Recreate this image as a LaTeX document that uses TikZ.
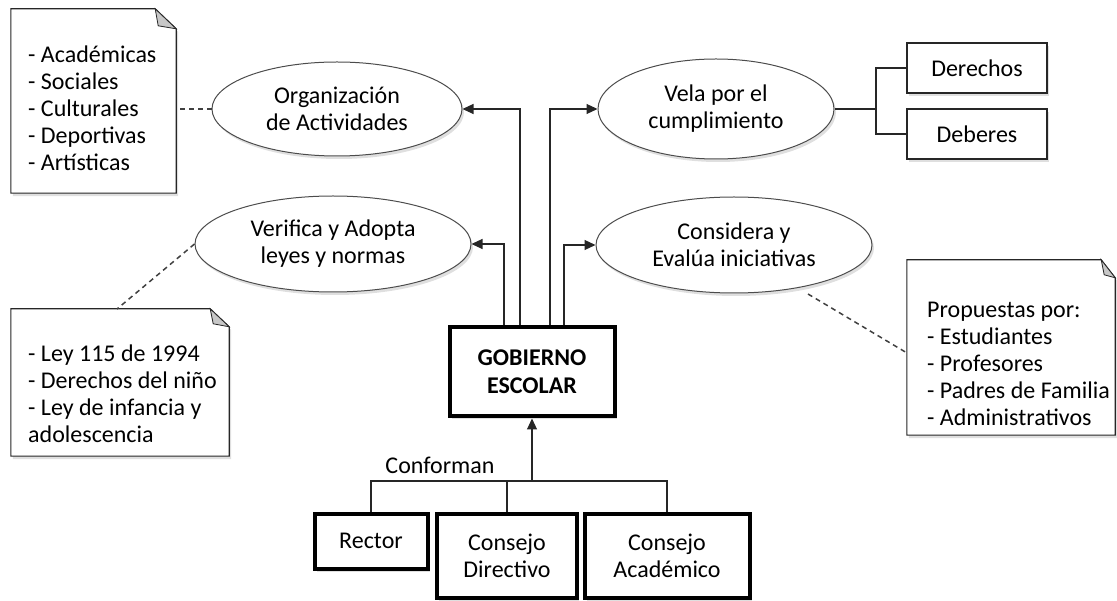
\documentclass[tikz,border=0pt]{standalone}
\usepackage{fontspec}
\setmainfont{Carlito}
\usetikzlibrary{shapes.geometric,arrows.meta,shadows,calc}
\begin{document}
\begin{tikzpicture}[x=1pt,y=-1pt,
  font=\fontsize{24}{27}\selectfont,
  shad/.style={drop shadow={opacity=0.25,shadow xshift=2pt,shadow yshift=-3pt}},
  oval/.style={ellipse,draw=black!70,line width=1pt,fill=white,align=center,inner sep=0pt,shad},
  thinbox/.style={rectangle,draw=black!85,line width=1.1pt,fill=white,align=center,inner sep=0pt,shad},
  thickbox/.style={rectangle,draw=black,line width=4pt,fill=white,align=center,inner sep=0pt,shad},
  notebox/.style={rectangle,inner sep=0pt},
  noteline/.style={draw=black!85,line width=1.1pt,fill=white,shad},
  fold/.style={draw=black!85,line width=0.8pt,fill=black!22},
  conn/.style={draw=black!85,line width=1.1pt},
  arr/.style={conn,-{Triangle[length=11pt,width=10pt]}},
  dashlink/.style={draw=black!75,line width=1.5pt,dash pattern=on 5pt off 4pt},
  notetext/.style={anchor=west,align=left,inner sep=0pt}
]
\useasboundingbox (0,0) rectangle (1117,601);

% ellipses
\node[oval,minimum width=250pt,minimum height=94pt] (e1) at (337,109) {Organización\\de Actividades};
\node[oval,minimum width=236pt,minimum height=100pt] (e2) at (716,109) {Vela por el\\cumplimiento};
\node[oval,minimum width=276pt,minimum height=96pt] (e3) at (333,244) {Verifica y Adopta\\leyes y normas};
\node[oval,minimum width=276pt,minimum height=96pt] (e4) at (734,245) {Considera y\\Evalúa iniciativas};

% right boxes
\node[thinbox,minimum width=140pt,minimum height=50pt] (der) at (977,68) {Derechos};
\node[thinbox,minimum width=140pt,minimum height=50pt] (deb) at (977,134) {Deberes};

% central and bottom boxes
\node[thickbox,minimum width=165pt,minimum height=89pt,font=\fontsize{24}{28}\selectfont\bfseries] (gob) at (532,372) {GOBIERNO\\ESCOLAR};
\node[thickbox,minimum width=113pt,minimum height=55pt] (rec) at (371,541) {Rector};
\node[thickbox,minimum width=140pt,minimum height=84pt] (dir) at (507,556) {Consejo\\Directivo};
\node[thickbox,minimum width=165pt,minimum height=84pt] (aca) at (667,556) {Consejo\\Académico};

% notes (outline nodes)
\node[notebox,minimum width=165pt,minimum height=184pt] (n1) at (93.5,101) {};
\node[notebox,minimum width=218pt,minimum height=147pt] (n2) at (120,382.5) {};
\node[notebox,minimum width=208pt,minimum height=175pt] (n3) at (1011,347.5) {};

\draw[noteline] (n1.north west) -- ($(n1.north east)+(-21,0)$) -- ($(n1.north east)+(0,20)$) -- (n1.south east) -- (n1.south west) -- cycle;
\draw[fold] ($(n1.north east)+(-21,0)$) -- ($(n1.north east)+(0,20)$) -- ($(n1.north east)+(-18,17)$) -- cycle;
\draw[noteline] (n2.north west) -- ($(n2.north east)+(-19,0)$) -- ($(n2.north east)+(0,18)$) -- (n2.south east) -- (n2.south west) -- cycle;
\draw[fold] ($(n2.north east)+(-19,0)$) -- ($(n2.north east)+(0,18)$) -- ($(n2.north east)+(-16,15)$) -- cycle;
\draw[noteline] (n3.north west) -- ($(n3.north east)+(-14,0)$) -- ($(n3.north east)+(0,18)$) -- (n3.south east) -- (n3.south west) -- cycle;
\draw[fold] ($(n3.north east)+(-14,0)$) -- ($(n3.north east)+(0,18)$) -- ($(n3.north east)+(-11,15)$) -- cycle;

\node[notetext] (t1) at (28,108) {- Académicas\\- Sociales\\- Culturales\\- Deportivas\\- Artísticas};
\node[notetext] (t2) at (28,394) {- Ley 115 de 1994\\- Derechos del niño\\- Ley de infancia y\\adolescencia};
\node[notetext] (t3) at (927,364) {Propuestas por:\\- Estudiantes\\- Profesores\\- Padres de Familia\\- Administrativos};

% connectors from GOBIERNO ESCOLAR
\draw[arr] ([xshift=-12pt]gob.north) |- (e1.east);
\draw[arr] ([xshift=18pt]gob.north) |- (e2.west);
\draw[arr] ([xshift=-28pt]gob.north) |- (e3.east);
\draw[arr] ([xshift=32pt]gob.north) |- (e4.west);

% derechos / deberes
\coordinate (br) at (876,109);
\draw[conn] (e2.east) -- (br);
\draw[conn] (der.west) -| (br) |- (deb.west);

% dashed note links
\coordinate (n2top) at (117,309);
\coordinate (n3left) at (907,353);
\coordinate (e4out) at (808,294);
\draw[dashlink] (e1.west) -- (e1.west -| n1.east);
\draw[dashlink] (e3.west) -- (n2top);
\draw[dashlink] (e4out) -- (n3left);

% bottom tree
\coordinate (j) at (532,481);
\draw[arr] (j) -- (gob.south);
\draw[conn] (rec.north) |- (j) -| (aca.north);
\draw[conn] (dir.north) -- (dir.north |- j);
\node[inner sep=0pt] (conf) at (440,465) {Conforman};
\end{tikzpicture}
\end{document}
